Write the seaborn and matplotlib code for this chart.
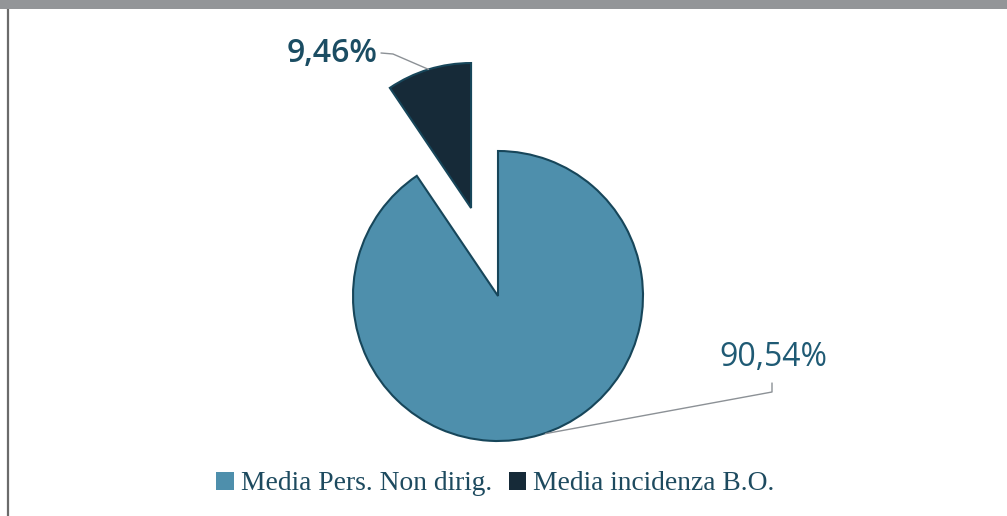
import numpy as np
import matplotlib
matplotlib.use("Agg")
import matplotlib.pyplot as plt
import seaborn as sns
from matplotlib.patches import Patch, Rectangle
from matplotlib.lines import Line2D

# ---- data ----
categories = ["Media Pers. Non dirig.", "Media incidenza B.O."]
values = [90.54, 9.46]
value_labels = ["90,54%", "9,46%"]
colors_hex = ["#4e8fac", "#162a38"]

sns.set_theme(style="white")
plt.rcParams['font.family'] = ['Open Sans', 'DejaVu Sans']
palette = sns.color_palette(colors_hex)

W, H = 1007, 516
fig = plt.figure(figsize=(W / 100, H / 100), dpi=100)
fig.patch.set_facecolor("white")
ax = fig.add_axes([0, 0, 1, 1])

cx, cy, r = 498, H - 296, 145
explode = [0, 92]
wedges, _ = ax.pie(values, colors=palette, startangle=90, counterclock=False,
                   center=(cx, cy), radius=r, explode=explode,
                   wedgeprops=dict(edgecolor="#17465a", linewidth=1.5),
                   frame=True)
ax.set_xlim(0, W)
ax.set_ylim(0, H)
ax.set_aspect("equal")
ax.axis("off")

# value labels with leader lines
line_col = "#8c9196"
for i, w in enumerate(wedges):
    th = np.deg2rad((w.theta1 + w.theta2) / 2)
    wx, wy = w.center
    ex, ey = wx + w.r * np.cos(th), wy + w.r * np.sin(th)
    if i == 1:
        tx, ty = 332, H - 54
        ax.plot([381, 393, ex], [H - 53, H - 54, ey], color=line_col, lw=1.0)
        ax.text(tx, ty, value_labels[i], ha="center", va="center",
                fontsize=23, color="#1b4d63", fontweight="semibold")
    else:
        tx, ty = 773, H - 357
        ax.plot([ex + 5, 772, 772], [ey + 1, H - 392, H - 383], color=line_col, lw=1.0)
        ax.text(tx, ty, value_labels[i], ha="center", va="center",
                fontsize=23, color="#1f5a74")

# legend
handles = [Patch(facecolor=c, edgecolor="none") for c in palette]
fig.legend(handles, categories, loc="center", bbox_to_anchor=(495.5 / W, 32 / H),
           ncol=2, frameon=False, prop={"family": "Liberation Serif", "size": 19.8},
           labelcolor="#1d4a5f", handlelength=0.63, handleheight=0.63,
           handletextpad=0.25, columnspacing=0.62, borderpad=0, borderaxespad=0)

# frame decoration: grey top band and left rule
fig.patches.append(Rectangle((0, 1 - 9 / H), 1, 9 / H, transform=fig.transFigure,
                             facecolor="#939598", edgecolor="none", zorder=10))
fig.lines.append(Line2D([8 / W, 8 / W], [0, 1 - 9 / H], transform=fig.transFigure,
                        color="#6b6b6b", lw=1.6, zorder=10))

fig.savefig("out.png", dpi=100, facecolor="white")
